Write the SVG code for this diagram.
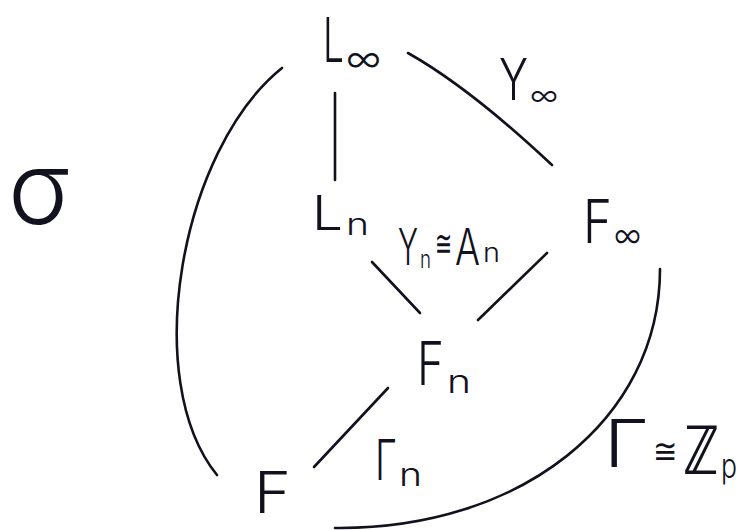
<svg xmlns="http://www.w3.org/2000/svg" width="741" height="530" viewBox="0 0 741 530">
<style>
.t{font-family:Inter,"Liberation Sans","DejaVu Sans",sans-serif;font-weight:300;fill:#12121e}
.e{fill:none;stroke:#12121e;stroke-width:2.6;stroke-linecap:round}
</style>
<rect width="741" height="530" fill="#ffffff"/>
<g id="connectors">
<path class="e" d="M335 93 L335 180"/>
<path class="e" d="M408 53 Q470 88 552 165"/>
<path class="e" d="M372 262 L420 313"/>
<path class="e" d="M547 253 L478 320"/>
<path class="e" d="M388 388 L314 467"/>
<path class="e" d="M282 68 C180 150 140 380 217 475"/>
<path class="e" d="M660 269 C660 420 520 530 335 528"/>
</g>
<g id="node-Linf">
<text class="t"><tspan x="323" y="62" font-size="62" textLength="21" lengthAdjust="spacingAndGlyphs">L</tspan><tspan x="346" y="72" font-size="38" textLength="35" lengthAdjust="spacingAndGlyphs">∞</tspan></text>
</g>
<g id="label-Yinf">
<text class="t"><tspan x="499" y="100" font-size="58" textLength="29" lengthAdjust="spacingAndGlyphs">Y</tspan><tspan x="530" y="106" font-size="30" textLength="28" lengthAdjust="spacingAndGlyphs">∞</tspan></text>
</g>
<g id="label-sigma">
<text class="t" x="8" y="224" font-size="100" textLength="62" lengthAdjust="spacingAndGlyphs">σ</text>
</g>
<g id="node-Ln">
<text class="t"><tspan x="312" y="230" font-size="48" textLength="31" lengthAdjust="spacingAndGlyphs">L</tspan><tspan x="346" y="235" font-size="30" textLength="23" lengthAdjust="spacingAndGlyphs">n</tspan></text>
</g>
<g id="label-YnAn">
<text class="t"><tspan x="398" y="265" font-size="50" textLength="20" lengthAdjust="spacingAndGlyphs">Y</tspan><tspan x="420" y="268" font-size="24" textLength="11" lengthAdjust="spacingAndGlyphs">n</tspan><tspan x="435" y="256" font-size="36" textLength="17" lengthAdjust="spacingAndGlyphs">≅</tspan><tspan x="455" y="265" font-size="50" textLength="25" lengthAdjust="spacingAndGlyphs">A</tspan><tspan x="483" y="262" font-size="26" textLength="17" lengthAdjust="spacingAndGlyphs">n</tspan></text>
</g>
<g id="node-Finf">
<text class="t"><tspan x="583" y="243" font-size="60" textLength="29" lengthAdjust="spacingAndGlyphs">F</tspan><tspan x="614" y="248" font-size="36" textLength="27" lengthAdjust="spacingAndGlyphs">∞</tspan></text>
</g>
<g id="node-Fn">
<text class="t"><tspan x="417" y="385" font-size="60" textLength="27" lengthAdjust="spacingAndGlyphs">F</tspan><tspan x="447" y="393" font-size="32" textLength="24" lengthAdjust="spacingAndGlyphs">n</tspan></text>
</g>
<g id="node-F">
<text class="t" x="254" y="513" font-size="58" textLength="37" lengthAdjust="spacingAndGlyphs">F</text>
</g>
<g id="label-Gn">
<text class="t"><tspan x="375" y="480" font-size="56" textLength="22" lengthAdjust="spacingAndGlyphs">Γ</tspan><tspan x="399" y="486" font-size="32" textLength="23" lengthAdjust="spacingAndGlyphs">n</tspan></text>
</g>
<g id="label-GZp">
<text class="t"><tspan x="604" y="467" font-size="66" textLength="45" lengthAdjust="spacingAndGlyphs">Γ</tspan><tspan x="653" y="463" font-size="34" textLength="24" lengthAdjust="spacingAndGlyphs">≅</tspan><tspan x="683" y="474" font-size="68" textLength="36" lengthAdjust="spacingAndGlyphs">ℤ</tspan><tspan x="721" y="478" font-size="34" textLength="16" lengthAdjust="spacingAndGlyphs">p</tspan></text>
</g>
</svg>
